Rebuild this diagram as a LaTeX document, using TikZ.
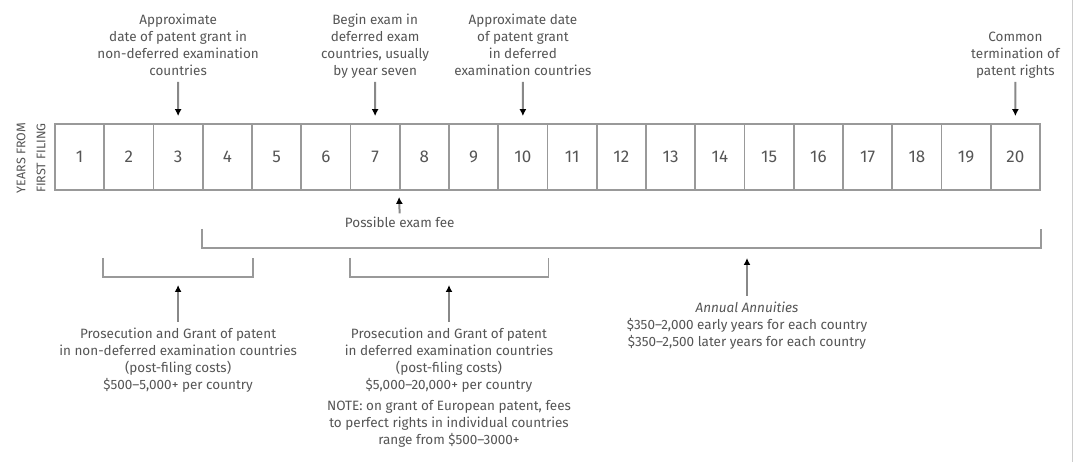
\documentclass[tikz,border=0pt]{standalone}
\usepackage{fontspec}
\setmainfont{Fira Sans}
\usetikzlibrary{arrows.meta}
\definecolor{txtgray}{HTML}{555555}
\definecolor{linegray}{HTML}{999999}
\definecolor{shaftgray}{HTML}{888888}
\definecolor{rulegray}{HTML}{CCCCCC}
\tikzset{
	cell/.style={draw=linegray, line width=1.8pt, minimum width=49.25pt, minimum height=66pt,
		inner sep=0pt, text=txtgray, font=\fontsize{17}{17}\selectfont},
	lbl/.style={align=center, text=txtgray, inner sep=0pt, font=\fontsize{13.5}{17}\selectfont},
	arr/.style={shaftgray, line width=2pt, -{Latex[length=7pt, width=7pt, color=black]}},
	brk/.style={draw=linegray, line width=1.8pt}}

\begin{document}
\begin{tikzpicture}[x=1pt, y=-1pt]
	\useasboundingbox (0,0) rectangle (1079,462);

	\pgfmathsetmacro\cellw{49.25};
	% year cells
	\foreach \i in {1,...,20}
		\node[cell] (y\i) at ({55+\cellw*(\i-0.5)},157) {\i};

	\node[lbl, rotate=90, font=\fontsize{12.5}{20}\selectfont] (side) at (31,158) {YEARS FROM\\FIRST FILING};

	% labels above
	\node[lbl, anchor=south, text depth=0pt] (grant3) at (178.1,76) {Approximate\\date of patent grant in\\non-deferred examination\\countries};
	\node[lbl, anchor=south, text depth=0pt] (exam7) at (375.1,76) {Begin exam in\\deferred exam\\countries, usually\\by year seven};
	\node[lbl, anchor=south, text depth=0pt] (grant10) at (522.9,76) {Approximate date\\of patent grant\\in deferred\\examination countries};
	\node[lbl, anchor=south, text depth=0pt] (end20) at (1015.4,76) {Common\\termination of\\patent rights};

	\draw[arr, shorten <=6pt, shorten >=7pt] (grant3.south) -- (y3.north);
	\draw[arr, shorten <=6pt, shorten >=7pt] (exam7.south) -- (y7.north);
	\draw[arr, shorten <=6pt, shorten >=7pt] (grant10.south) -- (y10.north);
	\draw[arr, shorten <=6pt, shorten >=7pt] (end20.south) -- (y20.north);

	% exam fee
	\node[lbl] (fee) at (399.75,222) {Possible exam fee};
	\draw[arr, shorten <=3pt, shorten >=6pt] (fee.north) -- (y8.south west);

	% brackets
	\draw[brk] ([yshift=-38pt]y4.south west) -- ++(0,19) -| ([yshift=-38pt]y20.south east);
	\draw[brk] ([yshift=-67pt]y2.south west) -- ++(0,19) -| ([yshift=-67pt]y4.south east);
	\draw[brk] ([yshift=-67pt]y7.south west) -- ++(0,19) -| ([yshift=-67pt]y10.south east);
	\coordinate (brkA) at (178.1,276);
	\coordinate (brkB) at (449,276);
	\coordinate (brkC) at (747,247);

	% costs
	\node[lbl, anchor=north] (prosA) at (178.1,328) {Prosecution and Grant of patent\\in non-deferred examination countries\\(post-filing costs)\\\$500–5,000+ per country};
	\node[lbl, anchor=north] (prosB) at (449,328) {Prosecution and Grant of patent\\in deferred examination countries\\(post-filing costs)\\\$5,000–20,000+ per country\\[4pt]NOTE: on grant of European patent, fees\\to perfect rights in individual countries\\range from \$500–3000+};
	\node[lbl, anchor=north] (annuity) at (747,302) {\textit{Annual Annuities}\\\$350–2,000 early years for each country\\\$350–2,500 later years for each country};

	\draw[arr, shorten <=6pt, shorten >=9pt] (prosA.north) -- (brkA);
	\draw[arr, shorten <=6pt, shorten >=9pt] (prosB.north) -- (brkB);
	\draw[arr, shorten <=6pt, shorten >=11pt] (annuity.north) -- (brkC);

	\draw[rulegray, line width=1pt] (1072,0) -- (1072,462);
\end{tikzpicture}
\end{document}
